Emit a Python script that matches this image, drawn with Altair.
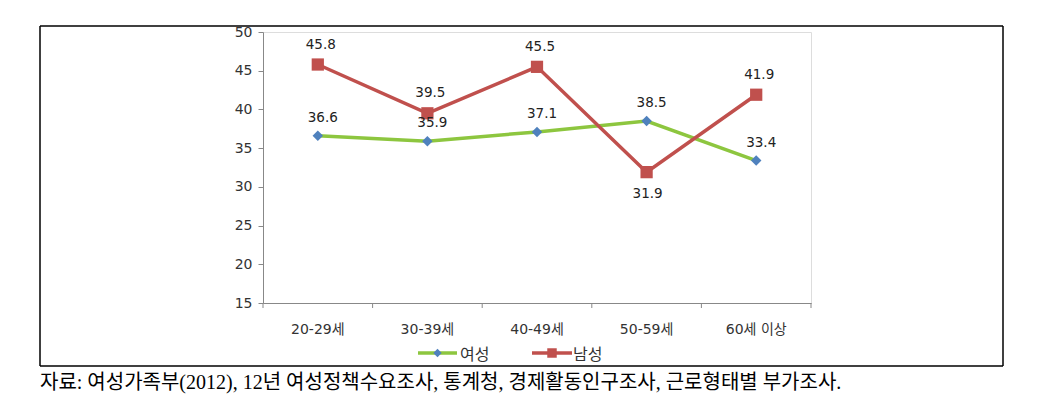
import altair as alt
import pandas as pd

categories = ["20-29세", "30-39세", "40-49세", "50-59세", "60세 이상"]
female = [36.6, 35.9, 37.1, 38.5, 33.4]
male = [45.8, 39.5, 45.5, 31.9, 41.9]
series_names = ["여성", "남성"]
source_note = "자료: 여성가족부(2012), 12년 여성정책수요조사, 통계청, 경제활동인구조사, 근로형태별 부가조사."

W, H = 548, 271
GREEN = "#8DC63F"
BLUE = "#4F81BD"
RED = "#C0504D"
FONT = "DejaVu Sans, Noto Sans CJK KR"

df = pd.DataFrame(
    {"cat": categories * 2,
     "value": female + male,
     "series": [series_names[0]] * len(categories) + [series_names[1]] * len(categories)}
)
fem = df[df.series == series_names[0]]
mal = df[df.series == series_names[1]]

xscale = alt.Scale(type="band", domain=categories, paddingInner=0, paddingOuter=0)
yscale = alt.Scale(domain=[15, 50], nice=False, zero=False)

xenc = alt.X("cat:N", scale=xscale, sort=categories,
             axis=alt.Axis(title=None, labelAngle=0, ticks=False, domainColor="#888888",
                           labelFont=FONT, labelFontSize=14, labelColor="#333333",
                           labelPadding=19))
yenc = alt.Y("value:Q", scale=yscale,
             axis=alt.Axis(title=None, values=[15, 20, 25, 30, 35, 40, 45, 50], grid=False,
                           labelOverlap=False, labelFlush=False,
                           domainColor="#888888", tickColor="#888888", tickSize=5,
                           labelPadding=6, labelFont=FONT, labelFontSize=14,
                           labelColor="#333333"))

f_line = alt.Chart(fem).mark_line(color=GREEN, strokeWidth=3.5).encode(x=xenc, y=yenc)
f_pts = alt.Chart(fem).mark_point(shape="diamond", filled=True, color=BLUE, size=110, opacity=1).encode(
    x=xenc, y=yenc)
m_line = alt.Chart(mal).mark_line(color=RED, strokeWidth=3.5).encode(x=xenc, y=yenc)
m_pts = alt.Chart(mal).mark_square(color=RED, size=150, opacity=1).encode(x=xenc, y=yenc)

lab_f = alt.Chart(fem).mark_text(font=FONT, fontSize=13.5, color="#222222", dx=5, dy=-18).encode(
    x=xenc, y=yenc, text=alt.Text("value:Q", format=".1f"))
lab_m_up = alt.Chart(mal).transform_filter("datum.value >= 35").mark_text(
    font=FONT, fontSize=13.5, color="#222222", dx=3, dy=-20).encode(
    x=xenc, y=yenc, text=alt.Text("value:Q", format=".1f"))
lab_m_dn = alt.Chart(mal).transform_filter("datum.value < 35").mark_text(
    font=FONT, fontSize=13.5, color="#222222", dx=1, dy=22).encode(
    x=xenc, y=yenc, text=alt.Text("value:Q", format=".1f"))

# x-axis ticks at category boundaries
xticks = alt.Chart(fem).mark_rule(color="#888888").encode(
    x=alt.X("cat:N", sort=categories, scale=xscale, bandPosition=0),
    y=alt.value(H), y2=alt.value(H + 5))
one = df.head(1)
xtick_end = alt.Chart(one).mark_rule(color="#888888").encode(
    x=alt.value(W), y=alt.value(H), y2=alt.value(H + 5))

# outer frame
L, R, T, B = -223, 740, -6, 334
frame = [
    alt.Chart(one).mark_rule(color="black", strokeWidth=1.5).encode(
        x=alt.value(L), x2=alt.value(R), y=alt.value(T)),
    alt.Chart(one).mark_rule(color="black", strokeWidth=1.5).encode(
        x=alt.value(L), x2=alt.value(R), y=alt.value(B)),
    alt.Chart(one).mark_rule(color="black", strokeWidth=1.5).encode(
        x=alt.value(L), y=alt.value(T), y2=alt.value(B)),
    alt.Chart(one).mark_rule(color="black", strokeWidth=1.5).encode(
        x=alt.value(R), y=alt.value(T), y2=alt.value(B)),
]

# legend
LY = 321
leg = [
    alt.Chart(one).mark_rule(color=GREEN, strokeWidth=3.5).encode(
        x=alt.value(155), x2=alt.value(194), y=alt.value(LY)),
    alt.Chart(one).mark_point(shape="diamond", filled=True, color=BLUE, size=70, opacity=1).encode(
        x=alt.value(174.5), y=alt.value(LY)),
    alt.Chart(one).mark_text(text=series_names[0], font=FONT, fontSize=16, align="left",
                             color="#333333").encode(x=alt.value(197), y=alt.value(LY + 2)),
    alt.Chart(one).mark_rule(color=RED, strokeWidth=3.5).encode(
        x=alt.value(269), x2=alt.value(309), y=alt.value(LY)),
    alt.Chart(one).mark_square(color=RED, size=90, opacity=1).encode(
        x=alt.value(289), y=alt.value(LY)),
    alt.Chart(one).mark_text(text=series_names[1], font=FONT, fontSize=16, align="left",
                             color="#333333").encode(x=alt.value(310), y=alt.value(LY + 2)),
]

note = alt.Chart(one).mark_text(
    text=source_note, font="Liberation Serif, Noto Sans CJK KR", fontSize=20, align="left",
    color="#000000").encode(x=alt.value(L), y=alt.value(351))

chart = alt.layer(
    f_line, m_line, f_pts, m_pts, lab_f, lab_m_up, lab_m_dn, xticks, xtick_end, *frame, *leg, note
).properties(
    width=W, height=H,
    autosize=alt.AutoSizeParams(type="none"),
    padding={"left": 255, "top": 24, "right": 210, "bottom": 100},
).configure_view(stroke=None).configure(background="white")

chart.save("out.html", embed_options={"renderer": "svg", "actions": False})
